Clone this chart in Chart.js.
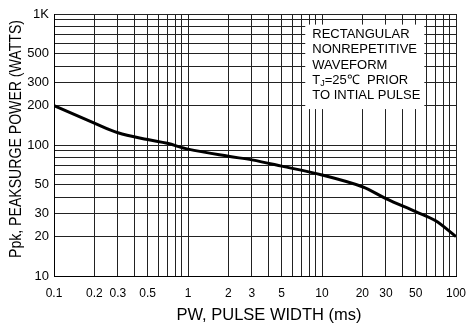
<!DOCTYPE html>
<html>
<head>
<meta charset="utf-8">
<script src="https://cdn.jsdelivr.net/npm/chart.js"></script>
<style>body{margin:0;background:#fff}</style>
</head>
<body>
<canvas id="pulseChart" width="466" height="325"></canvas>
<script>
// curve (PW in ms, Ppk in watts)
var pulseWidth = [0.1, 0.2, 0.3, 0.5, 0.7, 1, 2, 3, 5, 10, 20, 30, 50, 70, 100];
var peakPower = [200, 147, 124, 110, 103, 93, 82, 77, 69, 59, 48, 39, 31, 26.5, 20];

var xGrid = [0.1, 0.2, 0.3, 0.4, 0.5, 0.6, 0.7, 0.8, 0.9,
             1, 2, 3, 4, 5, 6, 7, 8, 9,
             10, 20, 30, 40, 50, 60, 70, 80, 90, 100];
var xLabels = [0.1, 0.2, 0.3, 0.5, 1, 2, 3, 5, 10, 20, 30, 50, 100];
var yGrid = [10, 20, 30, 40, 50, 60, 70, 80, 90, 100, 200, 300, 400, 500, 600, 700, 800, 900, 1000];
var yLabels = [10, 20, 30, 50, 100, 200, 300, 500, 1000];
var noteLines = ['RECTANGULAR', 'NONREPETITIVE', 'WAVEFORM', 'T|J|=25\u2103  PRIOR', 'TO INTIAL PULSE'];
var xTitle = 'PW, PULSE WIDTH (ms)';
var yTitle = 'Ppk, PEAKSURGE POWER (WATTS)';

var FONT = "'Liberation Sans', Arial, sans-serif";

var notePlugin = {
  id: 'note',
  beforeDatasetsDraw: function(chart) {
    var ctx = chart.ctx, xs = chart.scales.x, ys = chart.scales.y;
    var left = xs.getPixelForValue(7.5), right = xs.getPixelForValue(58);
    var top = ys.getPixelForValue(830), bottom = ys.getPixelForValue(188);
    ctx.save();
    ctx.fillStyle = '#fff';
    ctx.fillRect(left, top, right - left, bottom - top);
    ctx.fillStyle = '#000';
    ctx.textBaseline = 'middle';
    ctx.textAlign = 'left';
    noteLines.forEach(function(line, i) {
      var y = top + 10 + i * 15.3, x = left + 7;
      var parts = line.split('|');
      ctx.font = '13px ' + FONT;
      ctx.fillText(parts[0], x, y);
      if (parts.length > 1) {
        x += ctx.measureText(parts[0]).width;
        ctx.font = '9px ' + FONT;
        ctx.fillText(parts[1], x, y + 3);
        x += ctx.measureText(parts[1]).width;
        ctx.font = '13px ' + FONT;
        ctx.fillText(parts[2], x, y);
      }
    });
    ctx.restore();
  }
};

// axis titles, drawn by hand so the reference's narrow lettering can be matched
var titlePlugin = {
  id: 'titles',
  afterDraw: function(chart) {
    var ctx = chart.ctx;
    ctx.save();
    ctx.fillStyle = '#000';
    ctx.textAlign = 'center';
    ctx.textBaseline = 'middle';
    ctx.font = '16.5px ' + FONT;
    ctx.fillText(xTitle, 269, 315);
    ctx.font = '16px ' + FONT;
    var w = ctx.measureText(yTitle).width;
    ctx.translate(17, 139);
    ctx.rotate(-Math.PI / 2);
    ctx.scale(238 / w, 1);
    ctx.fillText(yTitle, 0, 0);
    ctx.restore();
  }
};

new Chart(document.getElementById('pulseChart'), {
  type: 'line',
  data: {
    datasets: [{
      data: pulseWidth.map(function(v, i) { return {x: v, y: peakPower[i]}; }),
      borderColor: '#000',
      borderWidth: 3,
      pointRadius: 0,
      fill: false,
      tension: 0.35
    }]
  },
  options: {
    responsive: false,
    animation: false,
    layout: {padding: {top: 14, right: 10}},
    plugins: {legend: {display: false}, tooltip: {enabled: false}},
    scales: {
      x: {
        type: 'logarithmic',
        min: 0.1,
        max: 100,
        afterBuildTicks: function(scale) {
          scale.ticks = xGrid.map(function(v) { return {value: v}; });
        },
        afterFit: function(scale) {
          scale.height = 49;
          scale.paddingLeft = 0;
          scale.paddingRight = 0;
        },
        grid: {color: '#222', lineWidth: 1, drawTicks: false},
        border: {color: '#000', width: 1},
        ticks: {
          autoSkip: false,
          maxRotation: 0,
          padding: 10,
          color: '#000',
          font: {family: FONT, size: 12},
          callback: function(value) { return xLabels.indexOf(value) >= 0 ? String(value) : ''; }
        }
      },
      y: {
        type: 'logarithmic',
        min: 10,
        max: 1000,
        afterBuildTicks: function(scale) {
          scale.ticks = yGrid.map(function(v) { return {value: v}; });
        },
        afterFit: function(scale) { scale.width = 54; },
        grid: {color: '#222', lineWidth: 1, drawTicks: false},
        border: {color: '#000', width: 1},
        ticks: {
          autoSkip: false,
          padding: 5,
          color: '#000',
          font: {family: FONT, size: 13},
          callback: function(value) {
            if (yLabels.indexOf(value) < 0) return '';
            return value === 1000 ? '1K' : String(value);
          }
        }
      }
    }
  },
  plugins: [notePlugin, titlePlugin]
});
</script>
</body>
</html>
